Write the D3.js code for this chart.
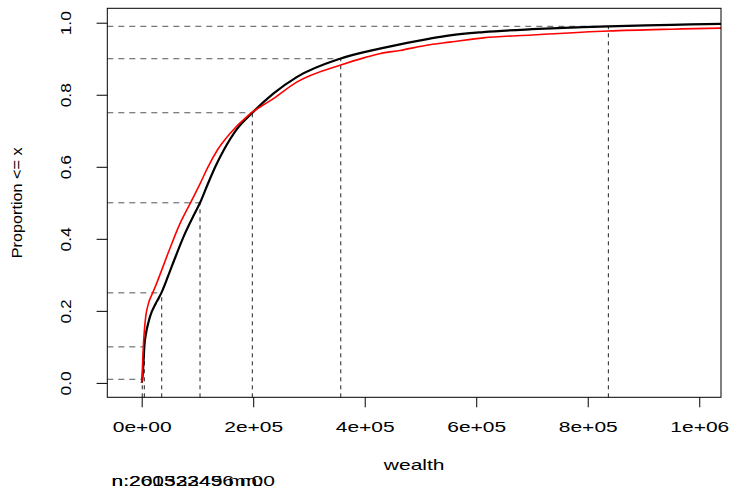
<!DOCTYPE html>
<html><head><meta charset="utf-8">
<script src="https://cdn.jsdelivr.net/npm/d3@7"></script>
<style>html,body{margin:0;padding:0;background:#fff;}svg{display:block;}</style>
</head><body>
<svg id="c" width="731" height="489"></svg>
<script>
// wealth (in dollars) and cumulative proportion, group 1 (black)
const blackWealth = [0, 1000, 3000, 4700, 8000, 11800, 14900, 25000, 30000, 35900, 53800, 77700, 91000, 104600, 118000, 132000, 147000, 170400, 198400, 236000, 278000, 355700, 427000, 517000, 553000, 612700, 700000, 792000, 837000, 950000, 1039000, 1100000];
const blackProp   = [0, 0.01, 0.05, 0.10, 0.14, 0.166, 0.184, 0.22, 0.234, 0.252, 0.323, 0.415, 0.458, 0.50, 0.55, 0.60, 0.646, 0.704, 0.75, 0.803, 0.849, 0.90, 0.928, 0.956, 0.965, 0.974, 0.982, 0.988, 0.99, 0.994, 0.997, 0.998];
// group 2 (red)
const redWealth = [0, 500, 1500, 2900, 4500, 7200, 12000, 19700, 26900, 49500, 68000, 87500, 105000, 119000, 135500, 158400, 191200, 236000, 278000, 355700, 400000, 427000, 463000, 517000, 553000, 612700, 700000, 837000, 950000, 1039000, 1100000];
const redProp   = [0, 0.01, 0.05, 0.10, 0.14, 0.184, 0.22, 0.25, 0.277, 0.369, 0.44, 0.50, 0.554, 0.60, 0.646, 0.6925, 0.743, 0.789, 0.835, 0.882, 0.903, 0.914, 0.923, 0.939, 0.946, 0.958, 0.966, 0.977, 0.982, 0.985, 0.986];
// quantile reference lines (group 1)
const quantLevels = [0.01, 0.10, 0.25, 0.50, 0.75, 0.90, 0.99];
const quantValues = [1000, 4700, 35900, 104600, 198400, 357000, 837000];
// axes
const xTickValues = [0, 200000, 400000, 600000, 800000, 1000000];
const xTickLabels = ["0e+00", "2e+05", "4e+05", "6e+05", "8e+05", "1e+06"];
const yTickValues = [0, 0.2, 0.4, 0.6, 0.8, 1.0];
const yTickLabels = ["0.0", "0.2", "0.4", "0.6", "0.8", "1.0"];
const xTitle = "wealth";
const yTitle = "Proportion <= x";
const footTexts = ["n:260523496 m:0", "n:20133245 m:0"];

const L = 107.3, R = 721, T = 8.3, B = 397.3;
const x = d3.scaleLinear().domain([-61700, 1039000]).range([L, R]);
const y = d3.scaleLinear().domain([-0.04, 1.04]).range([B, T]);
const svg = d3.select("#c");
const FONT = "Liberation Sans, Arial, Helvetica, sans-serif";
const HS = 1.5;   // horizontal stretch of horizontal text
const VS = 1.2;   // stretch along vertical text

svg.append("defs").append("clipPath").attr("id", "clip")
  .append("rect").attr("x", L).attr("y", T).attr("width", R - L).attr("height", B - T);

// dashed quantile lines
const dl = svg.append("g").attr("fill", "none");
quantLevels.forEach((q, i) => {
  dl.append("line").attr("x1", L).attr("x2", x(quantValues[i]))
    .attr("y1", y(q)).attr("y2", y(q))
    .attr("stroke", "#555").attr("stroke-width", 1).attr("stroke-dasharray", "6,5");
  dl.append("line").attr("x1", x(quantValues[i])).attr("x2", x(quantValues[i]))
    .attr("y1", B).attr("y2", y(q))
    .attr("stroke", "#222").attr("stroke-width", 1).attr("stroke-dasharray", "4,4");
});

// curves
const line = d3.line().x(d => x(d[0])).y(d => y(d[1])).curve(d3.curveMonotoneX);
const cg = svg.append("g").attr("clip-path", "url(#clip)");
cg.append("path").datum(blackWealth.map((w, i) => [w, blackProp[i]]))
  .attr("d", line).attr("fill", "none").attr("stroke", "#000").attr("stroke-width", 2.2);
cg.append("path").datum(redWealth.map((w, i) => [w, redProp[i]]))
  .attr("d", line).attr("fill", "none").attr("stroke", "#ff0000").attr("stroke-width", 1.6);

// box
svg.append("rect").attr("x", L).attr("y", T).attr("width", R - L).attr("height", B - T)
  .attr("fill", "none").attr("stroke", "#000").attr("stroke-width", 1);

// x axis
const xa = svg.append("g").attr("transform", `translate(0,${B})`)
  .call(d3.axisBottom(x).tickValues(xTickValues).tickSize(10).tickFormat((d, i) => xTickLabels[i]));
xa.select(".domain").remove();
xa.selectAll(".tick line").attr("stroke", "#000");
xa.selectAll(".tick text").each(function () {
  const t = d3.select(this);
  t.attr("y", null).attr("dy", null).attr("font-size", 14).attr("font-family", FONT)
    .attr("fill", "#000").attr("text-anchor", "middle")
    .attr("transform", `translate(0,35) scale(${HS},1)`);
});

// y axis
const ya = svg.append("g").attr("transform", `translate(${L},0)`)
  .call(d3.axisLeft(y).tickValues(yTickValues).tickSize(10.7).tickFormat((d, i) => yTickLabels[i]));
ya.select(".domain").remove();
ya.selectAll(".tick line").attr("stroke", "#000");
ya.selectAll(".tick text").each(function () {
  const t = d3.select(this);
  t.attr("x", null).attr("dy", null).attr("font-size", 14.5).attr("font-family", FONT)
    .attr("fill", "#000").attr("text-anchor", "middle")
    .attr("transform", `translate(${71 - L},0) rotate(-90) scale(${VS},1)`);
});

// titles
svg.append("text").attr("transform", `translate(${(L + R) / 2},469.5) scale(${HS},1)`)
  .attr("text-anchor", "middle").attr("font-size", 14).attr("font-family", FONT).text(xTitle);
svg.append("text").attr("transform", `translate(22,${(T + B) / 2}) rotate(-90) scale(1.12,1)`)
  .attr("text-anchor", "middle").attr("font-size", 14.5).attr("font-family", FONT).text(yTitle);

footTexts.forEach(s => {
  svg.append("text").attr("transform", `translate(111.5,486) scale(${HS},1)`)
    .attr("font-size", 14).attr("font-family", FONT).text(s);
});
</script>
</body></html>
